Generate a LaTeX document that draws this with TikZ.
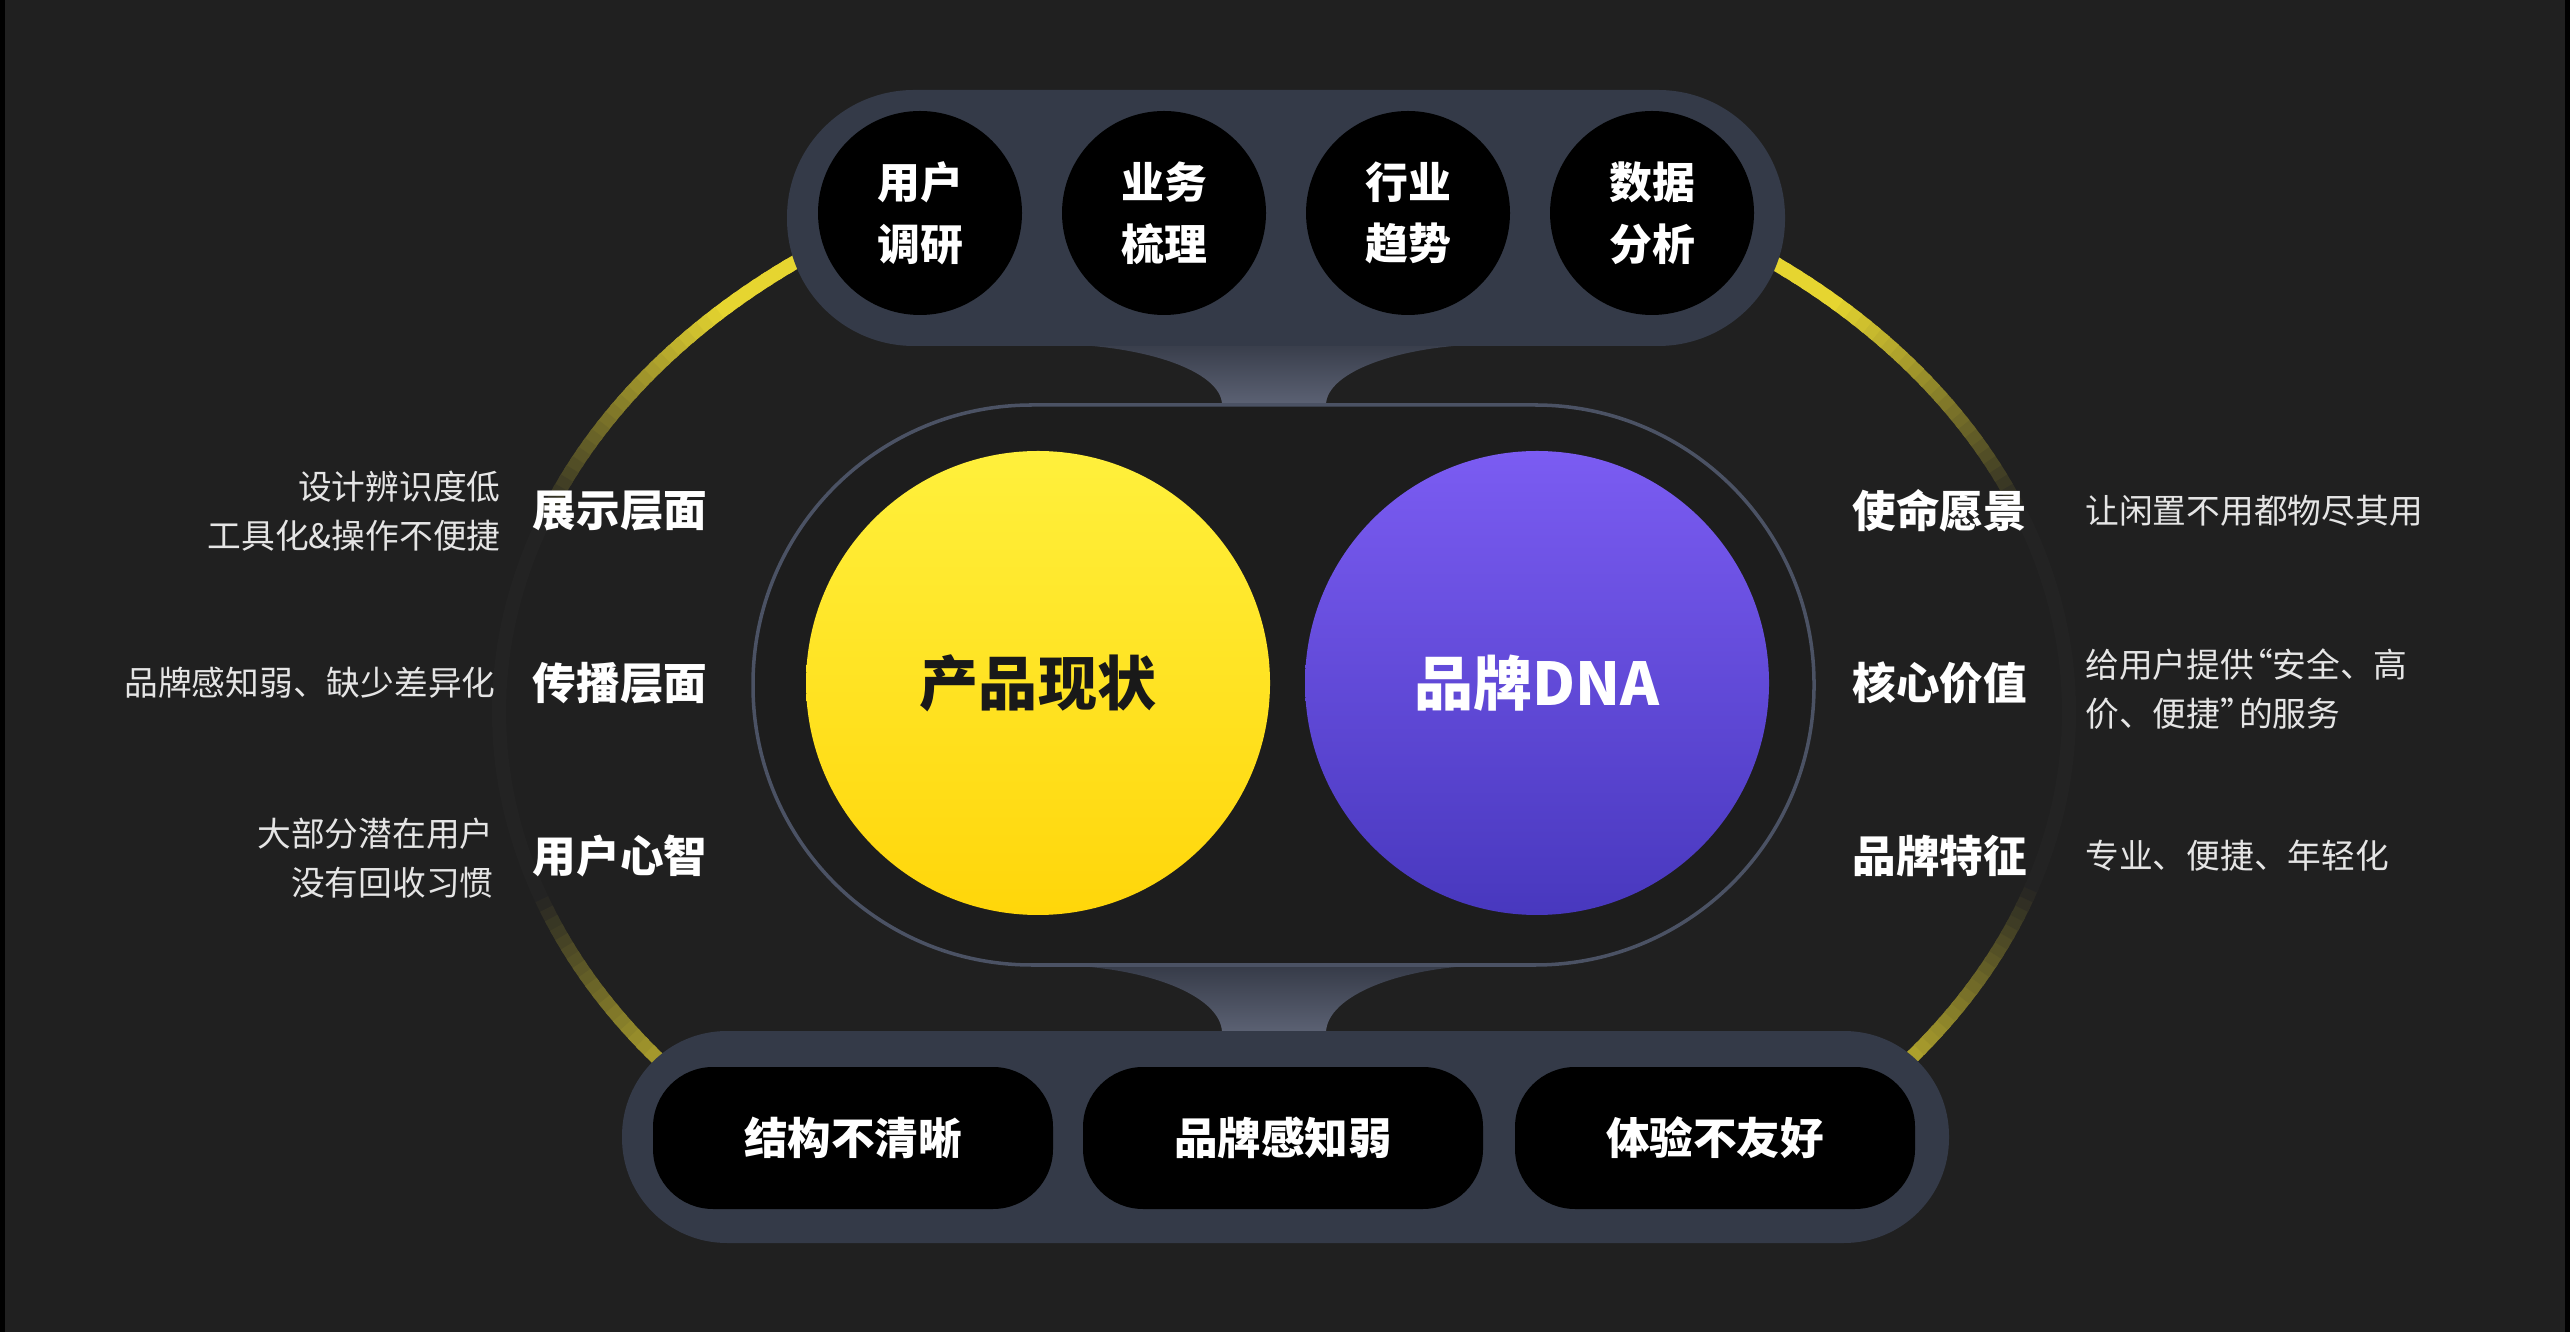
\documentclass[tikz,border=0pt]{standalone}
\usepackage{fontspec}
\setmainfont{Noto Sans CJK SC}
\usepackage{tikz}
\usetikzlibrary{positioning}

\definecolor{bgdark}{HTML}{202020}
\definecolor{pillgray}{HTML}{343A48}
\definecolor{rimgray}{HTML}{4B5264}
\definecolor{midfill}{HTML}{1D1D1D}
\definecolor{neckTop}{HTML}{363B48}
\definecolor{neckBot}{HTML}{5C6274}
\definecolor{ringyel}{HTML}{E6D530}
\definecolor{ringfaint}{HTML}{232323}
\definecolor{sunTop}{HTML}{FFF03C}
\definecolor{sunBot}{HTML}{FFD60A}
\definecolor{violetTop}{HTML}{7B5CF2}
\definecolor{violetBot}{HTML}{4838BE}

\begin{document}
\begin{tikzpicture}[
    dot/.style={circle, fill=black, minimum size=2.04cm, inner sep=0pt, text=white, align=center, font=\fontsize{12.2}{17.6}\selectfont\bfseries},
    box/.style={rectangle, rounded corners=0.6cm, fill=black, minimum width=4cm, minimum height=1.42cm, text=white, font=\fontsize{12.4}{15}\selectfont\bfseries},
    tag/.style={inner sep=0pt, text=white, font=\fontsize{12.4}{15}\selectfont\bfseries},
    note/.style={inner sep=0pt, text=white!90!black, font=\fontsize{9.6}{13.8}\selectfont},
    ringline/.style={line width=4pt}
]
        \useasboundingbox (0,0) rectangle (25.70,-13.32);
        \fill[bgdark] (0,0) rectangle (25.70,-13.32);
        \fill[black] (0,0) rectangle (0.05,-13.32);
        \fill[black] (25.65,0) rectangle (25.70,-13.32);

        % ring behind, fading away from the capsules
        \coordinate (ringc) at (12.84,-7.12);
        \foreach \a in {118,...,232} {
            \pgfmathtruncatemacro{\f}{max(0,min(100,100*(160-\a)/25)) + max(0,min(100,100*(\a-198)/27))}
            \draw[ringline, ringyel!\f!ringfaint] (ringc) ++(\a:7.85cm and 5.75cm) arc[start angle=\a, end angle=\a+1.4, x radius=7.85cm, y radius=5.75cm];
        }
        \foreach \a in {-52,...,62} {
            \pgfmathtruncatemacro{\f}{max(0,min(100,100*(\a-20)/25)) + max(0,min(100,100*(-18-\a)/27))}
            \draw[ringline, ringyel!\f!ringfaint] (ringc) ++(\a:7.85cm and 5.75cm) arc[start angle=\a, end angle=\a+1.4, x radius=7.85cm, y radius=5.75cm];
        }

        % necks
        \shade[top color=neckTop, bottom color=neckBot] (10.48,-3.40) -- (14.97,-3.40) -- (14.97,-3.44) arc[start angle=90, end angle=180, x radius=1.71, y radius=0.61] -- (12.22,-4.05) arc[start angle=0, end angle=90, x radius=1.74, y radius=0.61] -- cycle;
        \shade[top color=neckTop, bottom color=neckBot] (10.48,-9.65) -- (14.97,-9.65) arc[start angle=90, end angle=180, x radius=1.71, y radius=0.68] -- (12.22,-10.33) arc[start angle=0, end angle=90, x radius=1.74, y radius=0.68] -- cycle;

        % capsules
        \fill[pillgray, rounded corners=1.27cm] (7.87,-0.90) rectangle (17.85,-3.46);
        \draw[rimgray, line width=1pt, fill=midfill, rounded corners=2.79cm] (7.53,-4.05) rectangle (18.14,-9.65);
        \fill[pillgray, rounded corners=1.05cm] (6.22,-10.31) rectangle (19.49,-12.43);

        % top inputs
        \node[dot] (research) at (9.20,-2.13) {用户\\调研};
        \node[dot] (business) at (11.64,-2.13) {业务\\梳理};
        \node[dot] (industry) at (14.08,-2.13) {行业\\趋势};
        \node[dot] (data) at (16.52,-2.13) {数据\\分析};

        % two cores
        \node[circle, minimum size=4.64cm, inner sep=0pt, top color=sunTop, bottom color=sunBot, text=black!90, font=\fontsize{16.8}{20}\selectfont\bfseries] (status) at (10.38,-6.83) {产品现状};
        \node[circle, minimum size=4.64cm, inner sep=0pt, top color=violetTop, bottom color=violetBot, text=white, font=\fontsize{16.8}{20}\selectfont\bfseries] (brand) at (15.37,-6.83) {品牌DNA};

        % bottom problems
        \node[box] (structure) at (8.53,-11.38) {结构不清晰};
        \node[box] (weak) at (12.83,-11.38) {品牌感知弱};
        \node[box] (experience) at (17.15,-11.38) {体验不友好};

        % left side
        \node[tag, anchor=east] (show) at (7.08,-5.11) {展示层面};
        \node[tag, anchor=east] (spread) at (7.08,-6.83) {传播层面};
        \node[tag, anchor=east] (mind) at (7.08,-8.56) {用户心智};
        \node[note, align=right, left=0.31cm of show] (showtxt) {设计辨识度低\\工具化\&操作不便捷};
        \node[note, left=0.36cm of spread] (spreadtxt) {品牌感知弱、缺少差异化};
        \node[note, align=right, left=0.38cm of mind, yshift=-0.02cm] (mindtxt) {大部分潜在用户\\没有回收习惯};

        % right side
        \node[tag, anchor=west] (mission) at (18.52,-5.11) {使命愿景};
        \node[tag, anchor=west] (value) at (18.52,-6.83) {核心价值};
        \node[tag, anchor=west] (trait) at (18.52,-8.56) {品牌特征};
        \node[note, right=0.57cm of mission] (missiontxt) {让闲置不用都物尽其用};
        \node[note, align=left, right=0.57cm of value, yshift=-0.06cm] (valuetxt) {给用户提供\kern-0.45em“安全、高\\价、便捷”\kern-0.45em的服务};
        \node[note, right=0.57cm of trait] (traittxt) {专业、便捷、年轻化};
    \end{tikzpicture}
\end{document}
